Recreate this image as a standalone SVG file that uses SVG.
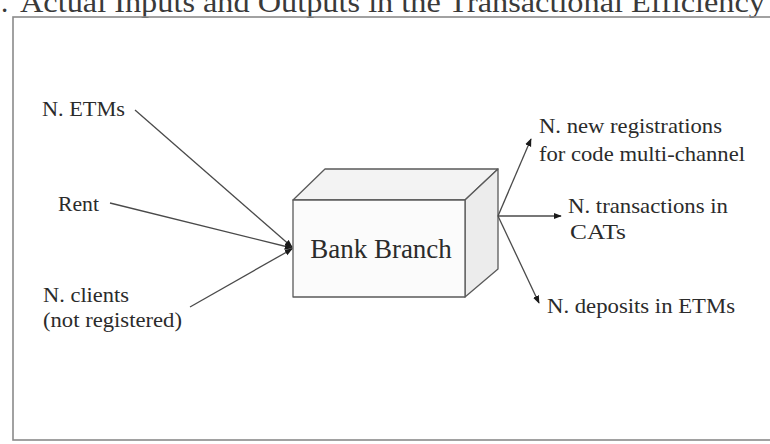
<svg xmlns="http://www.w3.org/2000/svg" width="770" height="444" viewBox="0 0 770 444">
  <style>
    text { font-family: "Liberation Serif", "Times New Roman", serif; fill: #2b2b2b; }
    .lbl { font-size: 21px; }
    .title { font-size: 29px; fill: #3a3a3a; }
    .frame { fill: none; stroke: #8a8a8a; stroke-width: 1.6; }
    .face { stroke: #5a5a5a; stroke-width: 1.3; stroke-linejoin: round; }
    .wire { stroke: #4a4a4a; stroke-width: 1.3; fill: none; }
  </style>
  <defs>
    <marker id="arrow" viewBox="0 0 10 10" refX="9" refY="5" markerWidth="8" markerHeight="8" markerUnits="userSpaceOnUse" orient="auto">
      <path d="M0,1 L10,5 L0,9 Z" fill="#1a1a1a"/>
    </marker>
  </defs>

  <rect width="770" height="444" fill="#ffffff"/>

  <!-- caption running past the top edge of the page -->
  <text class="title" x="1" y="12">.</text>
  <text class="title" x="20" y="12" textLength="745" lengthAdjust="spacingAndGlyphs">Actual Inputs and Outputs in the Transactional Efficiency</text>

  <!-- outer frame -->
  <rect class="frame" x="13" y="17" width="780" height="423"/>

  <!-- central block -->
  <g id="bank-branch">
    <polygon class="face" points="293,200 325,169 498,169 465,200" fill="#f3f3f3"/>
    <polygon class="face" points="465,200 498,169 498,269 465,297" fill="#ececec"/>
    <rect class="face" x="293" y="200" width="172" height="97" fill="#fbfbfb"/>
    <text x="381" y="258" font-size="27" text-anchor="middle">Bank Branch</text>
  </g>

  <!-- inputs -->
  <g id="in-etms"><text class="lbl" x="42" y="116" textLength="83" lengthAdjust="spacingAndGlyphs">N. ETMs</text></g>
  <g id="in-rent"><text class="lbl" x="58" y="211" textLength="41" lengthAdjust="spacingAndGlyphs">Rent</text></g>
  <g id="in-clients">
    <text class="lbl" x="43" y="302" textLength="86" lengthAdjust="spacingAndGlyphs">N. clients</text>
    <text class="lbl" x="43" y="327" textLength="139" lengthAdjust="spacingAndGlyphs">(not registered)</text>
  </g>

  <!-- outputs -->
  <g id="out-registrations">
    <text class="lbl" x="539" y="133" textLength="183" lengthAdjust="spacingAndGlyphs">N. new registrations</text>
    <text class="lbl" x="539" y="161" textLength="206" lengthAdjust="spacingAndGlyphs">for code multi-channel</text>
  </g>
  <g id="out-transactions">
    <text class="lbl" x="568" y="213" textLength="160" lengthAdjust="spacingAndGlyphs">N. transactions in</text>
    <text class="lbl" x="570" y="239" textLength="56" lengthAdjust="spacingAndGlyphs">CATs</text>
  </g>
  <g id="out-deposits">
    <text class="lbl" x="547" y="313" textLength="188" lengthAdjust="spacingAndGlyphs">N. deposits in ETMs</text>
  </g>

  <!-- connectors -->
  <g id="connectors" class="wire">
    <line x1="135" y1="110" x2="292" y2="247" marker-end="url(#arrow)"/>
    <line x1="110" y1="203" x2="292" y2="248" marker-end="url(#arrow)"/>
    <line x1="190" y1="307" x2="292" y2="249" marker-end="url(#arrow)"/>
    <line x1="498" y1="216" x2="531" y2="139" marker-end="url(#arrow)"/>
    <line x1="498" y1="216" x2="561" y2="216" marker-end="url(#arrow)"/>
    <line x1="498" y1="216" x2="539" y2="303" marker-end="url(#arrow)"/>
  </g>
</svg>
